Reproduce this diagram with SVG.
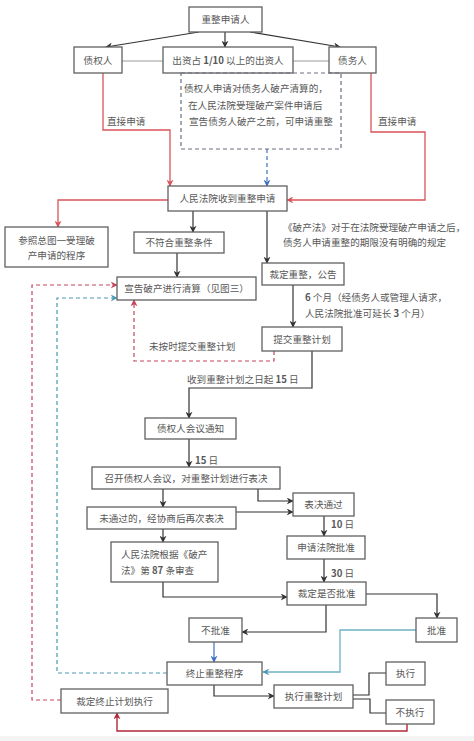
<svg xmlns="http://www.w3.org/2000/svg" width="474" height="741" viewBox="0 0 474 741">
<style>
text{font-family:"Noto Sans CJK SC","Noto Sans",sans-serif;font-size:9.6px;fill:#585858}
.c{text-anchor:middle}
.box{fill:#fff;stroke:#606060;stroke-width:1.3}
.k{fill:none;stroke:#333;stroke-width:1.2}
.g{fill:none;stroke:#9a9a9a;stroke-width:1}
.r{fill:none;stroke:#d9545a;stroke-width:1.3}
.dr{fill:none;stroke:#b3273a;stroke-width:1.4}
.pd{fill:none;stroke:#c4465c;stroke-width:1.2;stroke-dasharray:4,3}
.b{fill:none;stroke:#3f6fc0;stroke-width:1.2}
.bd{fill:none;stroke:#3f6fc0;stroke-width:1.2;stroke-dasharray:4,3}
.t{fill:none;stroke:#6fb2c6;stroke-width:1.3}
.td{fill:none;stroke:#4a9ab5;stroke-width:1.2;stroke-dasharray:4,3}
.gd{fill:none;stroke:#6a7080;stroke-width:1.2;stroke-dasharray:4,3}
.n{font-weight:bold}
</style>
<defs>
<marker id="ak" viewBox="0 0 10 10" refX="9" refY="5" markerWidth="7" markerHeight="7" markerUnits="userSpaceOnUse" orient="auto"><path d="M0,0 L10,5 L0,10 L3,5 z" fill="#333"/></marker>
<marker id="ar" viewBox="0 0 10 10" refX="9" refY="5" markerWidth="7" markerHeight="7" markerUnits="userSpaceOnUse" orient="auto"><path d="M0,0 L10,5 L0,10 L3,5 z" fill="#d9545a"/></marker>
<marker id="adr" viewBox="0 0 10 10" refX="9" refY="5" markerWidth="7" markerHeight="7" markerUnits="userSpaceOnUse" orient="auto"><path d="M0,0 L10,5 L0,10 L3,5 z" fill="#b3273a"/></marker>
<marker id="ap" viewBox="0 0 10 10" refX="9" refY="5" markerWidth="7" markerHeight="7" markerUnits="userSpaceOnUse" orient="auto"><path d="M0,0 L10,5 L0,10 L3,5 z" fill="#c4465c"/></marker>
<marker id="ab" viewBox="0 0 10 10" refX="9" refY="5" markerWidth="7" markerHeight="7" markerUnits="userSpaceOnUse" orient="auto"><path d="M0,0 L10,5 L0,10 L3,5 z" fill="#3f6fc0"/></marker>
<marker id="at" viewBox="0 0 10 10" refX="9" refY="5" markerWidth="7" markerHeight="7" markerUnits="userSpaceOnUse" orient="auto"><path d="M0,0 L10,5 L0,10 L3,5 z" fill="#4a9ab5"/></marker>
</defs>
<rect width="474" height="741" fill="#fff"/>
<rect x="0" y="736" width="474" height="5" fill="#f4f4f4"/>

<g id="connectors">
<path class="k" d="M199,32 L106,47" marker-end="url(#ak)"/>
<path class="k" d="M225,32 V47" marker-end="url(#ak)"/>
<path class="k" d="M250,32 L340,47" marker-end="url(#ak)"/>
<path class="g" d="M122,61 H163 M293,61 H329"/>
<path class="bd" d="M267,149 V186" marker-end="url(#ab)"/>
<path class="r" d="M103,73 V130 H170 V186" marker-end="url(#ar)"/>
<path class="r" d="M371,73 V132 H425 V200 H287" marker-end="url(#ar)"/>
<path class="r" d="M168,200 H58 V227" marker-end="url(#ar)"/>
<path class="k" d="M193,211 V232" marker-end="url(#ak)"/>
<path class="k" d="M177,253 V277" marker-end="url(#ak)"/>
<path class="k" d="M267,211 V263" marker-end="url(#ak)"/>
<path class="k" d="M293,285 V327" marker-end="url(#ak)"/>
<path class="pd" d="M274,351 V361 H134 V300" marker-end="url(#ap)"/>
<path class="k" d="M312,351 V388 H189 V418" marker-end="url(#ak)"/>
<path class="k" d="M189,439 V467" marker-end="url(#ak)"/>
<path class="k" d="M163,489 V507" marker-end="url(#ak)"/>
<path class="k" d="M258,489 V501 H293" marker-end="url(#ak)"/>
<path class="k" d="M236,512 H293" marker-end="url(#ak)"/>
<path class="k" d="M163,529 V542" marker-end="url(#ak)"/>
<path class="k" d="M324,516 V536" marker-end="url(#ak)"/>
<path class="k" d="M324,559 V582" marker-end="url(#ak)"/>
<path class="k" d="M163,582 V597 H287" marker-end="url(#ak)"/>
<path class="k" d="M366,594 H437 V618" marker-end="url(#ak)"/>
<path class="k" d="M326,605 V632 H242" marker-end="url(#ak)"/>
<path class="t" d="M416,630 H340 V672 H263" marker-end="url(#at)"/>
<path class="b" d="M214,642 V662" marker-end="url(#ab)"/>
<path class="td" d="M167,673 H57 V298 H117" marker-end="url(#at)"/>
<path class="k" d="M214,685 V696 H274" marker-end="url(#ak)"/>
<path class="k" d="M353,695 H369 V673 H386"/>
<path class="k" d="M353,699 H370 V713 H386"/>
<path class="pd" d="M61,700 H32 V285 H117" marker-end="url(#ap)"/>
<path class="dr" d="M407,724 V731 H117 V713" marker-end="url(#adr)"/>
</g>

<g id="labels">
<text x="107" y="125">直接申请</text>
<text x="378" y="125">直接申请</text>
<text x="283" y="231">《破产法》对于在法院受理破产申请之后，</text>
<text x="283" y="246">债务人申请重整的期限没有明确的规定</text>
<text x="305" y="301"><tspan class="n">6</tspan> 个月（经债务人或管理人请求，</text>
<text x="305" y="317">人民法院批准可延长 <tspan class="n">3</tspan> 个月）</text>
<text x="149" y="350">未按时提交重整计划</text>
<text x="187" y="383">收到重整计划之日起 <tspan class="n">15</tspan> 日</text>
<text x="195" y="464"><tspan class="n">15</tspan> 日</text>
<text x="331" y="528"><tspan class="n">10</tspan> 日</text>
<text x="331" y="577"><tspan class="n">30</tspan> 日</text>
</g>

<g id="n-applicant"><rect class="box" x="189" y="7" width="73" height="25"/><text class="c" x="225.5" y="23">重整申请人</text></g>
<g id="n-creditor"><rect class="box" x="74" y="47" width="48" height="26"/><text class="c" x="98" y="64">债权人</text></g>
<g id="n-investor"><rect class="box" x="163" y="47" width="130" height="26"/><text class="c" x="228" y="64">出资占 <tspan class="n">1/10</tspan> 以上的出资人</text></g>
<g id="n-debtor"><rect class="box" x="329" y="47" width="47" height="26"/><text class="c" x="352.5" y="64">债务人</text></g>
<g id="n-note"><rect x="181" y="73" width="160" height="76" fill="none" class="gd"/>
<text x="184" y="92">债权人申请对债务人破产清算的，</text>
<text x="188" y="109">在人民法院受理破产案件申请后</text>
<text x="189" y="125">宣告债务人破产之前，可申请重整</text></g>
<g id="n-court"><rect class="box" x="168" y="186" width="119" height="25"/><text class="c" x="227.5" y="202">人民法院收到重整申请</text></g>
<g id="n-ref"><rect class="box" x="5" y="227" width="103" height="40"/><text class="c" x="56.5" y="244">参照总图一受理破</text><text class="c" x="56.5" y="259">产申请的程序</text></g>
<g id="n-unfit"><rect class="box" x="134" y="232" width="90" height="21"/><text class="c" x="179" y="246">不符合重整条件</text></g>
<g id="n-liquidate"><rect class="box" x="117" y="277" width="139" height="23"/><text class="c" x="186.5" y="292">宣告破产进行清算（见图三）</text></g>
<g id="n-ruling"><rect class="box" x="262" y="263" width="82" height="22"/><text class="c" x="303" y="277.5">裁定重整，公告</text></g>
<g id="n-submit"><rect class="box" x="262" y="327" width="80" height="24"/><text class="c" x="302" y="342.5">提交重整计划</text></g>
<g id="n-notice"><rect class="box" x="145" y="418" width="91" height="21"/><text class="c" x="190.5" y="432">债权人会议通知</text></g>
<g id="n-meeting"><rect class="box" x="92" y="467" width="188" height="22"/><text class="c" x="186" y="481.5">召开债权人会议，对重整计划进行表决</text></g>
<g id="n-passed"><rect class="box" x="293" y="493" width="61" height="23"/><text class="c" x="323.5" y="508">表决通过</text></g>
<g id="n-failed"><rect class="box" x="87" y="507" width="149" height="22"/><text class="c" x="161.5" y="521.5">未通过的，经协商后再次表决</text></g>
<g id="n-review"><rect class="box" x="111" y="542" width="107" height="40"/><text x="121" y="558">人民法院根据《破产</text><text x="121" y="574">法》第 <tspan class="n">87</tspan> 条审查</text></g>
<g id="n-apply"><rect class="box" x="287" y="536" width="78" height="23"/><text class="c" x="326" y="551">申请法院批准</text></g>
<g id="n-decide"><rect class="box" x="287" y="582" width="79" height="23"/><text class="c" x="326.5" y="597">裁定是否批准</text></g>
<g id="n-reject"><rect class="box" x="189" y="618" width="53" height="24"/><text class="c" x="215.5" y="633.5">不批准</text></g>
<g id="n-approve"><rect class="box" x="416" y="618" width="41" height="24"/><text class="c" x="436.5" y="633.5">批准</text></g>
<g id="n-terminate"><rect class="box" x="167" y="662" width="95" height="23"/><text class="c" x="214.5" y="677">终止重整程序</text></g>
<g id="n-execute"><rect class="box" x="274" y="685" width="79" height="23"/><text class="c" x="313.5" y="700">执行重整计划</text></g>
<g id="n-done"><rect class="box" x="386" y="662" width="39" height="23"/><text class="c" x="405.5" y="677">执行</text></g>
<g id="n-notdone"><rect class="box" x="386" y="700" width="48" height="24"/><text class="c" x="410" y="715.5">不执行</text></g>
<g id="n-stop"><rect class="box" x="61" y="689" width="107" height="24"/><text class="c" x="114.5" y="704.5">裁定终止计划执行</text></g>
</svg>
